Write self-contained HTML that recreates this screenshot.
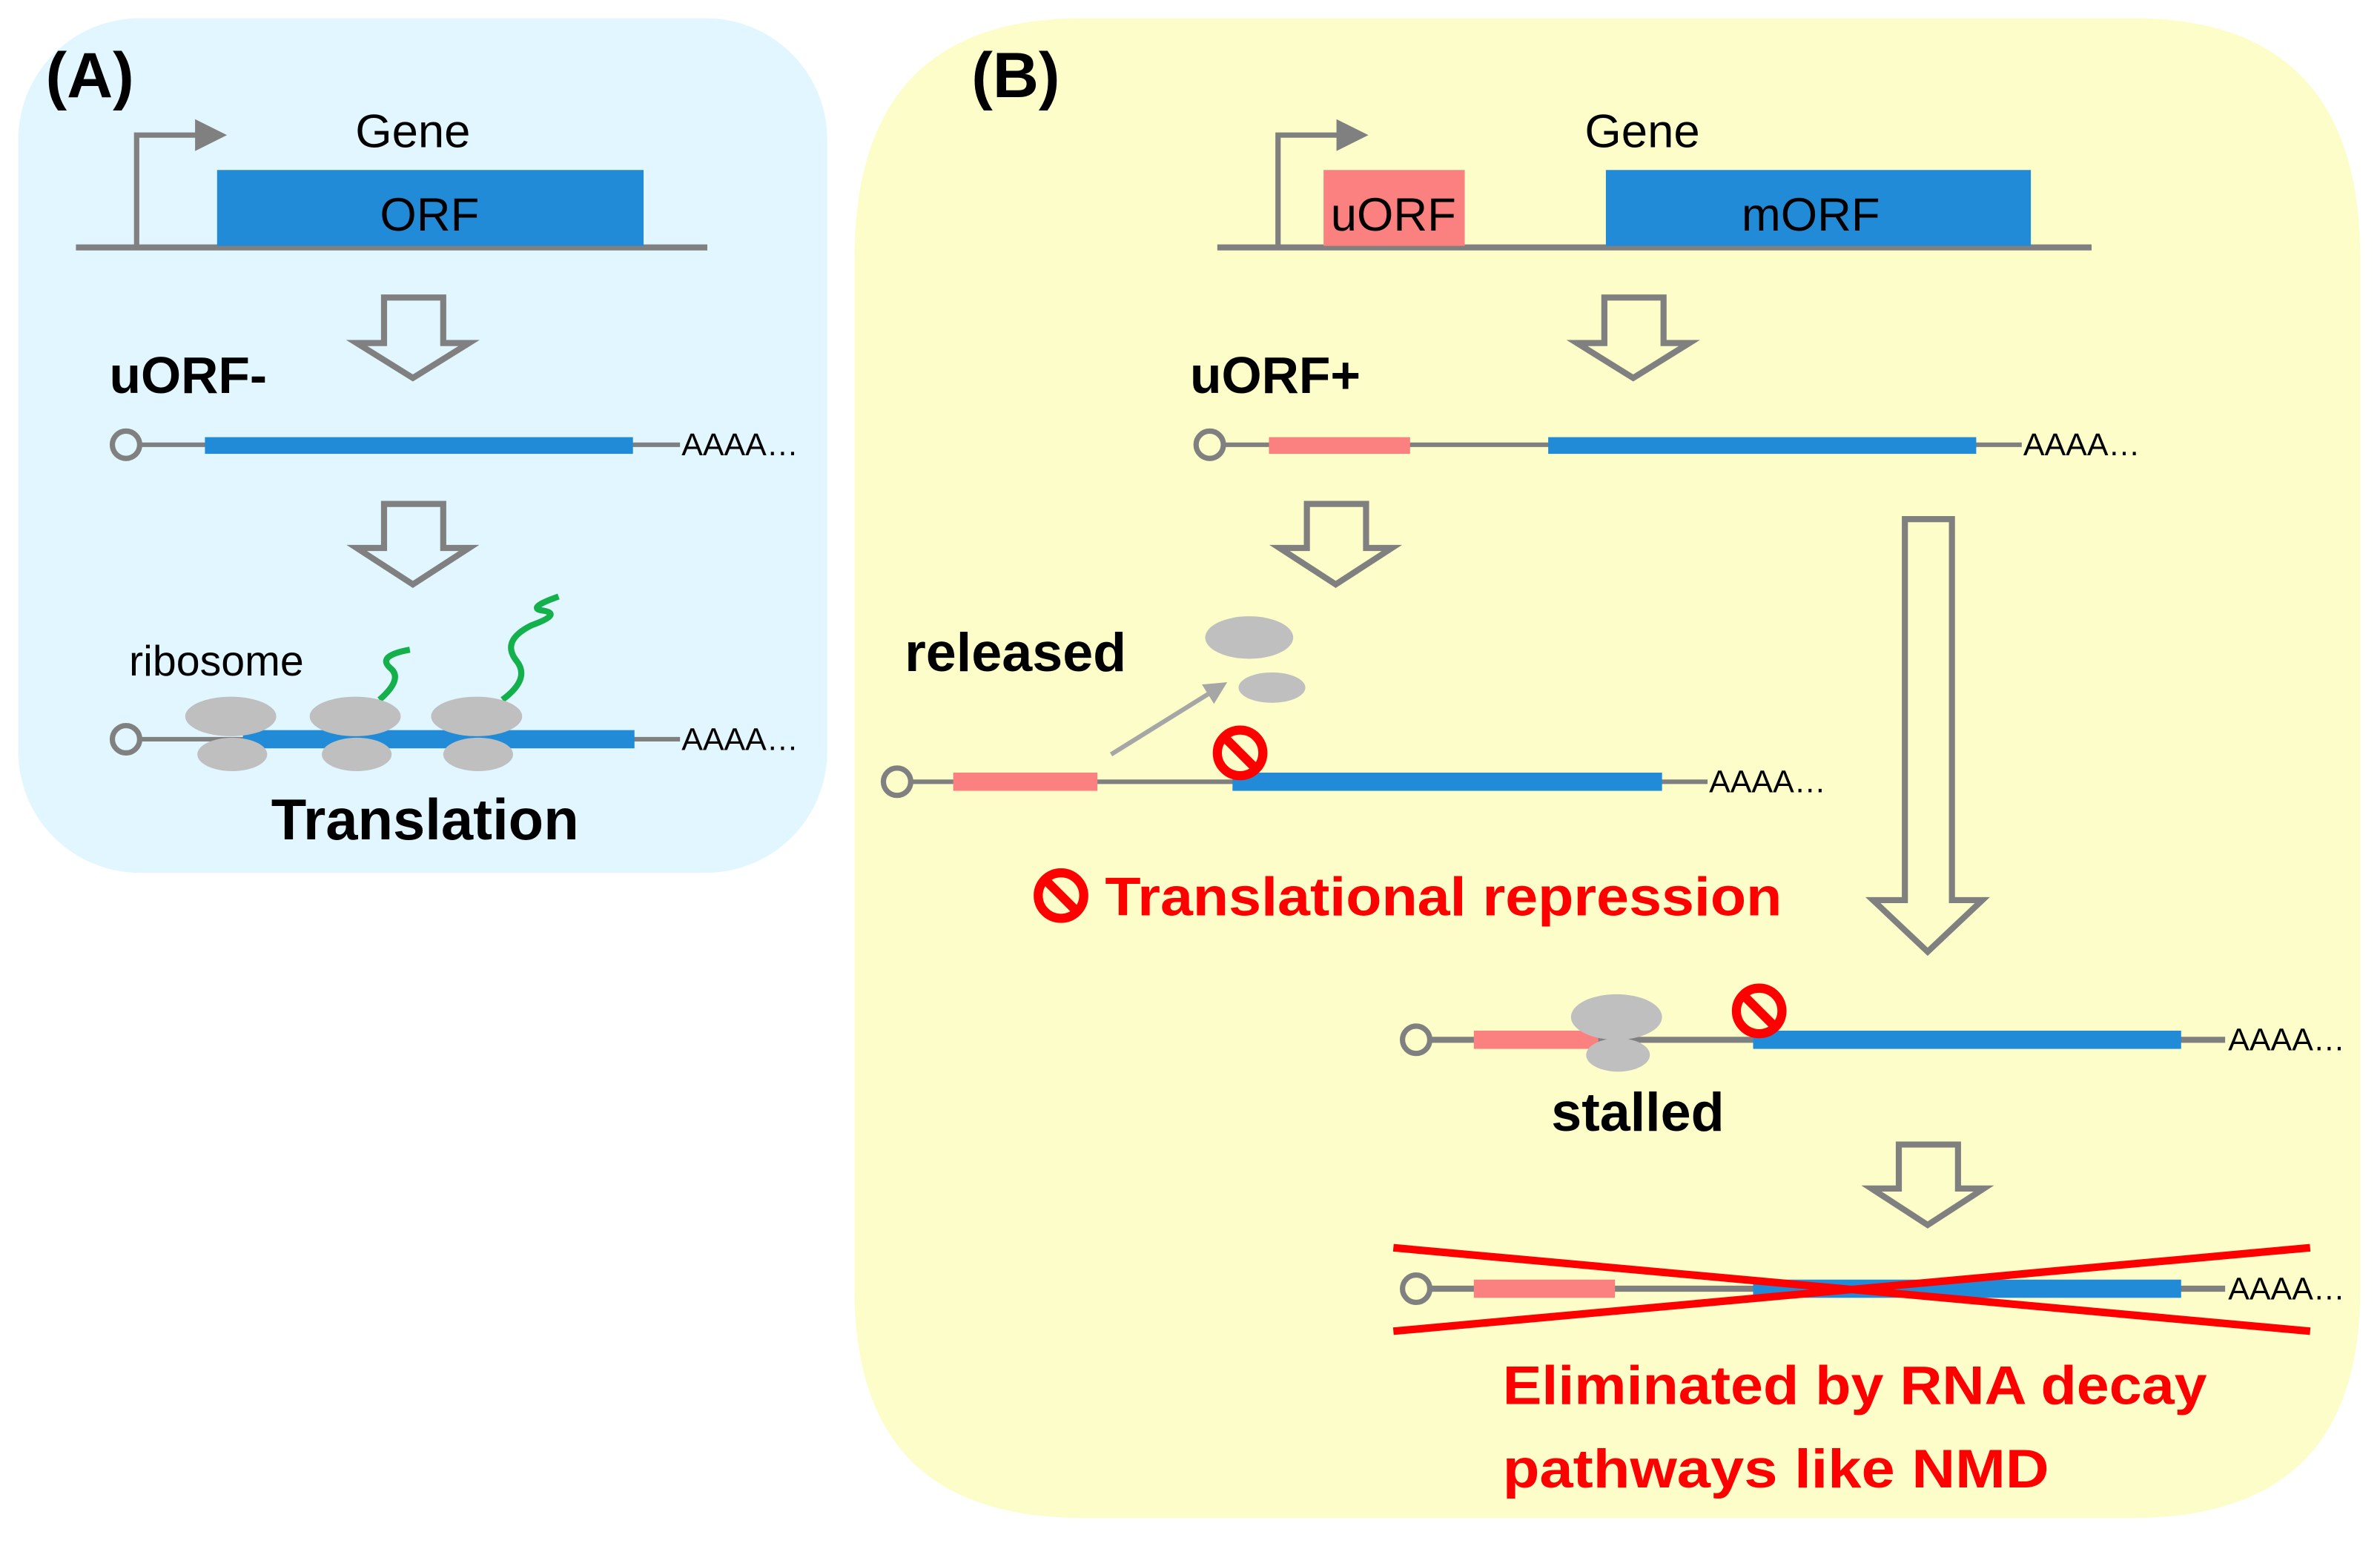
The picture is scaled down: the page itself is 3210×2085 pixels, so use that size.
<!DOCTYPE html>
<html><head><meta charset="utf-8"><style>
html,body{margin:0;padding:0;background:#fff;}
svg{display:block;}
text{font-family:"Liberation Sans",sans-serif;}
</style></head><body>
<svg width="3210" height="2085" viewBox="0 0 1568 1018.5" xmlns="http://www.w3.org/2000/svg">
<defs>
<marker id="ah" markerWidth="6" markerHeight="6" refX="5" refY="3" orient="auto" markerUnits="strokeWidth"><path d="M0,0 L6,3 L0,6 z" fill="#808080"/></marker>
<marker id="ah2" markerWidth="5" markerHeight="5" refX="4" refY="2.5" orient="auto" markerUnits="strokeWidth"><path d="M0,0 L5,2.5 L0,5 z" fill="#a6a6a6"/></marker>
</defs>
<rect x="0" y="0" width="1568" height="1018.5" fill="#fff"/>
<rect x="12" y="12" width="533" height="563" rx="80" fill="#e1f6fe"/>
<path d="M713,12 L1405,12 Q1555,12 1555,170 L1555,850 Q1555,1000 1405,1000 L713,1000 Q563,1000 563,850 L563,170 Q563,12 713,12 Z" fill="#fdfdc9"/>

<text x="30" y="64" font-size="42" font-weight="bold">(A)</text>
<text x="640" y="64" font-size="42" font-weight="bold">(B)</text>

<line x1="50" y1="163" x2="466" y2="163" stroke="#808080" stroke-width="4"/>
<polyline points="90,163 90,89 146,89" fill="none" stroke="#808080" stroke-width="3.5" marker-end="url(#ah)"/>
<rect x="143" y="112" width="281" height="50" fill="#228bd8"/>
<text x="283" y="152" font-size="31" text-anchor="middle">ORF</text>
<text x="272" y="97" font-size="31" text-anchor="middle">Gene</text>
<path d="M253,196 L292,196 L292,226 L309,226 L272,249 L235,226 L253,226 Z" fill="none" stroke="#808080" stroke-width="4"/>
<text x="72" y="259" font-size="34" font-weight="bold">uORF-</text>
<line x1="92" y1="293" x2="448" y2="293" stroke="#808080" stroke-width="3"/>
<circle cx="83" cy="293" r="9" fill="none" stroke="#808080" stroke-width="3.5"/>
<rect x="135" y="288" width="282" height="11" fill="#228bd8"/>
<text x="449" y="300" font-size="21">AAAA…</text>
<path d="M253,332 L292,332 L292,361 L309,361 L272,385 L235,361 L253,361 Z" fill="none" stroke="#808080" stroke-width="4"/>
<text x="85" y="445" font-size="28">ribosome</text>
<line x1="92" y1="487" x2="448" y2="487" stroke="#808080" stroke-width="3"/>
<circle cx="83" cy="487" r="9" fill="none" stroke="#808080" stroke-width="3.5"/>
<rect x="160" y="481" width="258" height="12" fill="#228bd8"/>
<text x="449" y="494" font-size="21">AAAA…</text>
<path d="M250,461 Q266,447 257,440 Q248,432 270,428" fill="none" stroke="#13b04b" stroke-width="4"/>
<path d="M331,461 Q350,447 340,435 Q330,422 350,412 Q372,404 356,402 Q348,400 368,393" fill="none" stroke="#13b04b" stroke-width="4"/>
<g fill="#bfbfbf">
<ellipse cx="152" cy="472" rx="30" ry="13"/><ellipse cx="153" cy="497" rx="23" ry="11"/>
<ellipse cx="234" cy="472" rx="30" ry="13"/><ellipse cx="235" cy="497" rx="23" ry="11"/>
<ellipse cx="314" cy="472" rx="30" ry="13"/><ellipse cx="315" cy="497" rx="23" ry="11"/>
</g>
<text x="280" y="553" font-size="38" font-weight="bold" text-anchor="middle">Translation</text>

<line x1="802" y1="163" x2="1378" y2="163" stroke="#808080" stroke-width="4"/>
<polyline points="842,163 842,89 898,89" fill="none" stroke="#808080" stroke-width="3.5" marker-end="url(#ah)"/>
<rect x="872" y="112" width="93" height="50" fill="#fb8080"/>
<text x="918" y="152" font-size="31" text-anchor="middle">uORF</text>
<rect x="1058" y="112" width="280" height="50" fill="#228bd8"/>
<text x="1193" y="152" font-size="31" text-anchor="middle">mORF</text>
<text x="1082" y="97" font-size="31" text-anchor="middle">Gene</text>
<path d="M1057,196 L1096,196 L1096,226 L1113,226 L1076,249 L1039,226 L1057,226 Z" fill="none" stroke="#808080" stroke-width="4"/>
<text x="784" y="259" font-size="34" font-weight="bold">uORF+</text>
<line x1="806" y1="293" x2="1332" y2="293" stroke="#808080" stroke-width="3"/>
<circle cx="797" cy="293" r="9" fill="none" stroke="#808080" stroke-width="3.5"/>
<rect x="836" y="288" width="93" height="11" fill="#fb8080"/>
<rect x="1020" y="288" width="282" height="11" fill="#228bd8"/>
<text x="1333" y="300" font-size="21">AAAA…</text>
<path d="M861,332 L900,332 L900,361 L917,361 L880,385 L843,361 L861,361 Z" fill="none" stroke="#808080" stroke-width="4"/>
<path d="M1255,342 L1286,342 L1286,593 L1306,593 L1270,627 L1234,593 L1255,593 Z" fill="none" stroke="#808080" stroke-width="4"/>

<text x="596" y="442" font-size="36" font-weight="bold">released</text>
<ellipse cx="823" cy="420" rx="29" ry="14" fill="#bfbfbf"/>
<ellipse cx="838" cy="453" rx="22" ry="10" fill="#bfbfbf"/>
<line x1="732" y1="497" x2="806" y2="451" stroke="#a6a6a6" stroke-width="3" marker-end="url(#ah2)"/>
<line x1="600" y1="515" x2="1125" y2="515" stroke="#808080" stroke-width="3"/>
<circle cx="591" cy="515" r="9" fill="none" stroke="#808080" stroke-width="3.5"/>
<rect x="628" y="509" width="95" height="12" fill="#fb8080"/>
<rect x="812" y="509" width="283" height="12" fill="#228bd8"/>
<text x="1126" y="522" font-size="21">AAAA…</text>
<g transform="translate(817,496)"><circle r="15" fill="none" stroke="#f00" stroke-width="6"/><line x1="-10" y1="-10" x2="10" y2="10" stroke="#f00" stroke-width="6"/></g>
<g transform="translate(699,590)"><circle r="15" fill="none" stroke="#f00" stroke-width="6"/><line x1="-10" y1="-10" x2="10" y2="10" stroke="#f00" stroke-width="6"/></g>
<text x="728" y="603" font-size="36" font-weight="bold" fill="#f00" textLength="446" lengthAdjust="spacingAndGlyphs">Translational repression</text>

<line x1="942" y1="685" x2="1466" y2="685" stroke="#808080" stroke-width="4"/>
<circle cx="933" cy="685" r="9" fill="none" stroke="#808080" stroke-width="3.5"/>
<rect x="971" y="679" width="82" height="12" fill="#fb8080"/>
<rect x="1155" y="679" width="282" height="12" fill="#228bd8"/>
<ellipse cx="1065" cy="670" rx="30" ry="15" fill="#bfbfbf"/>
<ellipse cx="1066" cy="695" rx="21" ry="11" fill="#bfbfbf"/>
<g transform="translate(1159,666)"><circle r="15" fill="none" stroke="#f00" stroke-width="6"/><line x1="-10" y1="-10" x2="10" y2="10" stroke="#f00" stroke-width="6"/></g>
<text x="1468" y="692" font-size="21">AAAA…</text>
<text x="1022" y="745" font-size="36" font-weight="bold">stalled</text>
<path d="M1251,754 L1290,754 L1290,783 L1307,783 L1270,807 L1233,783 L1251,783 Z" fill="none" stroke="#808080" stroke-width="4"/>

<line x1="942" y1="849" x2="1466" y2="849" stroke="#808080" stroke-width="4"/>
<circle cx="933" cy="849" r="9" fill="none" stroke="#808080" stroke-width="3.5"/>
<rect x="971" y="843" width="93" height="12" fill="#fb8080"/>
<rect x="1155" y="843" width="282" height="12" fill="#228bd8"/>
<text x="1468" y="856" font-size="21">AAAA…</text>
<line x1="918" y1="822" x2="1522" y2="877" stroke="#f00" stroke-width="5"/>
<line x1="918" y1="877" x2="1522" y2="822" stroke="#f00" stroke-width="5"/>
<text x="990" y="925" font-size="36" font-weight="bold" fill="#f00" textLength="464" lengthAdjust="spacingAndGlyphs">Eliminated by RNA decay</text>
<text x="990" y="980" font-size="36" font-weight="bold" fill="#f00" textLength="360" lengthAdjust="spacingAndGlyphs">pathways like NMD</text>
</svg>
</body></html>
